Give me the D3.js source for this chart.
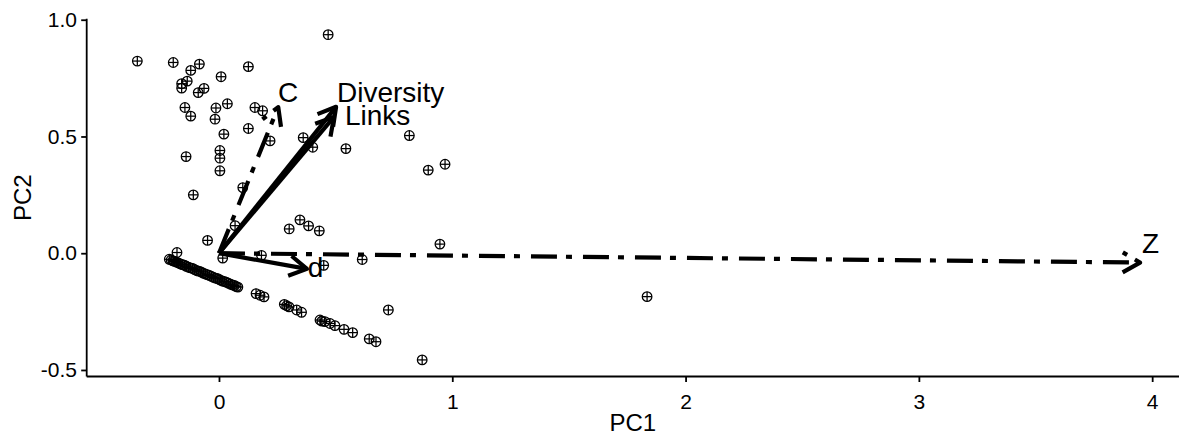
<!DOCTYPE html>
<html><head><meta charset="utf-8">
<script src="https://cdn.jsdelivr.net/npm/d3@7"></script>
<style>body{margin:0;background:#fff} svg{display:block} text{font-family:"Liberation Sans",Arial,sans-serif}</style>
</head><body><svg id="c" width="1179" height="436"></svg>
<script>
// ---- data ----
const pointPC1 = [-0.350,-0.196,-0.121,-0.084,-0.136,-0.160,-0.160,-0.089,-0.064,0.009,0.126,-0.146,-0.121,-0.013,0.036,-0.017,0.154,0.187,0.126,0.021,0.219,-0.141,0.004,0.004,0.004,0.102,-0.110,0.468,0.361,0.402,0.544,0.816,0.897,0.969,0.069,-0.049,-0.180,0.347,0.301,0.384,0.430,0.947,0.016,0.182,0.614,0.449,1.835,0.159,0.193,0.176,0.280,0.290,0.300,0.333,0.354,0.433,0.441,0.454,0.476,0.497,0.536,0.573,0.644,0.673,0.726,0.871,
 -0.213,-0.205,-0.197,-0.190,-0.182,-0.174,-0.165,-0.157,-0.148,-0.140,-0.131,-0.122,-0.113,-0.104,-0.095,-0.086,-0.077,-0.068,-0.059,-0.050,-0.041,-0.032,-0.023,-0.014,-0.005,0.004,0.013,0.022,0.031,0.040,0.049,0.058,0.066,0.074,0.081];
const pointPC2 = [0.823,0.817,0.783,0.810,0.737,0.726,0.707,0.688,0.706,0.756,0.799,0.624,0.587,0.622,0.640,0.574,0.624,0.610,0.534,0.510,0.481,0.414,0.440,0.407,0.353,0.281,0.250,0.936,0.495,0.454,0.448,0.504,0.356,0.381,0.118,0.055,0.003,0.143,0.104,0.117,0.096,0.039,-0.021,-0.009,-0.027,-0.052,-0.186,-0.173,-0.187,-0.180,-0.219,-0.225,-0.230,-0.243,-0.253,-0.286,-0.291,-0.293,-0.301,-0.310,-0.326,-0.340,-0.367,-0.379,-0.243,-0.457,
 -0.026,-0.029,-0.033,-0.035,-0.038,-0.042,-0.046,-0.049,-0.051,-0.056,-0.060,-0.063,-0.065,-0.070,-0.075,-0.077,-0.080,-0.085,-0.089,-0.092,-0.095,-0.099,-0.104,-0.107,-0.109,-0.114,-0.119,-0.121,-0.124,-0.128,-0.133,-0.136,-0.138,-0.143,-0.145];

const arrowNames = ["Diversity","Links","C","d","Z"];
const arrowPC1 = [0.502, 0.493, 0.254, 0.377, 3.948];
const arrowPC2 = [0.627, 0.584, 0.626, -0.067, -0.040];
const arrowDashed = [false, false, true, false, true];
const labelPC1 = [0.506, 0.540, 0.253, 0.381, 3.956];
const labelPC2 = [0.648, 0.550, 0.648, -0.101, 0.001];

const xTicks = [0,1,2,3,4];
const xTickLabels = ["0","1","2","3","4"];
const yTicks = [-0.5,0,0.5,1];
const yTickLabels = ["-0.5","0.0","0.5","1.0"];
const xTitle = "PC1", yTitle = "PC2";

// ---- chart ----
const svg = d3.select("#c");
const L = 86.7, R = 1179, T = 18.8, B = 376.5;
const x = d3.scaleLinear().domain([-0.567, 4.115]).range([L, R]);
const y = d3.scaleLinear().domain([-0.528, 1.004]).range([B, T]);

// points
const pts = svg.append("g");
pointPC1.forEach((px, i) => {
  const cx = x(px), cy = y(pointPC2[i]), r = 4.8;
  const g = pts.append("g").attr("stroke","#000").attr("stroke-width",1.25).attr("fill","none");
  g.append("circle").attr("cx",cx).attr("cy",cy).attr("r",r);
  g.append("line").attr("x1",cx-r).attr("x2",cx+r).attr("y1",cy).attr("y2",cy);
  g.append("line").attr("x1",cx).attr("x2",cx).attr("y1",cy-r).attr("y2",cy+r);
});

// arrows
const dash = "26,9,6,11";
const ag = svg.append("g").attr("fill","none").attr("stroke","#000");
arrowNames.forEach((n, i) => {
  const sx = x(0), sy = y(0), ex = x(arrowPC1[i]), ey = y(arrowPC2[i]);
  const th = Math.atan2(ey - sy, ex - sx), hl = 20, a = Math.PI / 6;
  const b1 = [ex - hl*Math.cos(th - a), ey - hl*Math.sin(th - a)];
  const b2 = [ex - hl*Math.cos(th + a), ey - hl*Math.sin(th + a)];
  const sw = 4.2;
  const l = ag.append("path").attr("d", `M${sx},${sy}L${ex},${ey}`).attr("stroke-width", sw).attr("stroke-linecap","butt");
  const h = ag.append("path").attr("d", `M${b1[0]},${b1[1]}L${ex},${ey}L${b2[0]},${b2[1]}`).attr("stroke-width", sw).attr("stroke-linejoin","round").attr("stroke-linecap","butt");
  if (arrowDashed[i]) { l.attr("stroke-dasharray", dash); h.attr("stroke-dasharray", dash); }
});

// labels
svg.append("g").selectAll("text").data(arrowNames).join("text")
  .attr("x", (d,i) => x(labelPC1[i])).attr("y", (d,i) => y(labelPC2[i]))
  .attr("font-size", 28).attr("fill","#000").text(d => d);

// axes
const xa = svg.append("g").attr("transform", `translate(0,${B})`)
  .call(d3.axisBottom(x).tickValues(xTicks).tickFormat((d,i) => xTickLabels[i]).tickSize(5.5).tickPadding(12).tickSizeOuter(0));
const ya = svg.append("g").attr("transform", `translate(${L},0)`)
  .call(d3.axisLeft(y).tickValues(yTicks).tickFormat((d,i) => yTickLabels[i]).tickSize(5.5).tickPadding(4.2).tickSizeOuter(0));
[xa, ya].forEach(a => {
  a.select(".domain").attr("stroke","#000").attr("stroke-width",1.8);
  a.selectAll(".tick line").attr("stroke","#000").attr("stroke-width",1.8);
  a.selectAll(".tick text").attr("fill","#000").attr("font-size",21).attr("font-family",'"Liberation Sans",Arial,sans-serif');
});
xa.select(".domain").attr("d", `M${L},0H${R}`);
ya.select(".domain").attr("d", `M0,${T}V${B}`);

svg.append("text").attr("x", (L+R)/2).attr("y", 431).attr("text-anchor","middle").attr("font-size",24).attr("fill","#000").text(xTitle);
svg.append("text").attr("transform", `translate(31,${(T+B)/2}) rotate(-90)`).attr("text-anchor","middle").attr("font-size",24).attr("fill","#000").text(yTitle);
</script></body></html>
